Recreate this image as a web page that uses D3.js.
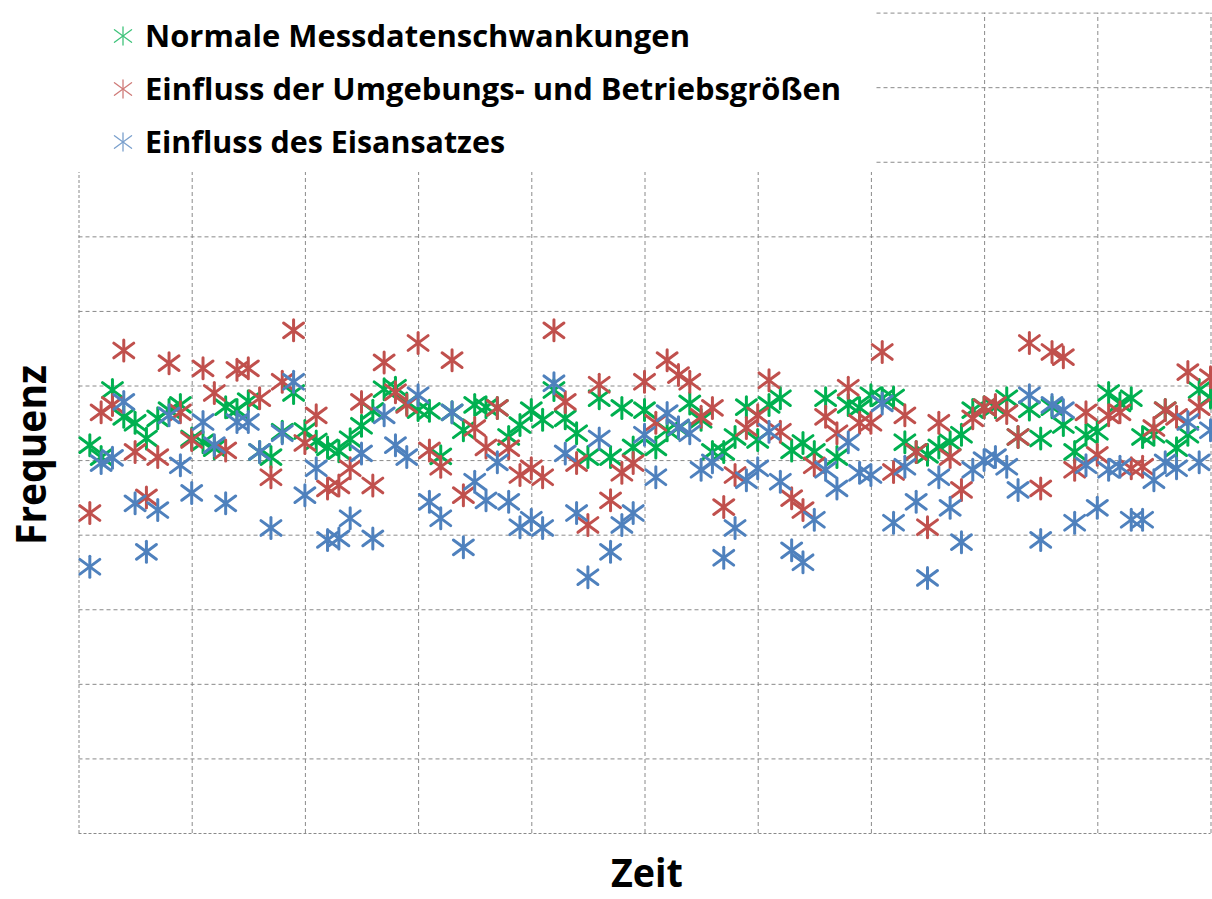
<!DOCTYPE html>
<html>
<head>
<meta charset="utf-8">
<script src="https://cdn.jsdelivr.net/npm/d3@7"></script>
<style>
  body { margin: 0; background: #fff; }
  svg { display: block; }
</style>
</head>
<body>
<svg id="chart" width="1212" height="899"></svg>
<script>
// series values (frequency in grid units), one per time step 1..100
var normale = [5.20,5.04,5.94,5.58,5.50,5.29,5.56,5.67,5.74,5.29,
  5.24,5.16,5.71,5.67,5.79,5.11,5.04,5.38,5.90,5.39,
  5.25,5.17,5.12,5.28,5.46,5.66,5.95,5.97,5.76,5.67,
  5.66,5.05,5.64,5.40,5.74,5.71,5.70,5.31,5.47,5.67,
  5.54,5.94,5.56,5.36,5.04,5.83,5.04,5.70,5.17,5.67,
  5.17,5.40,5.43,5.76,5.54,5.11,5.11,5.31,5.71,5.27,
  5.74,5.83,5.13,5.23,5.11,5.83,5.04,5.74,5.70,5.87,
  5.83,5.84,5.24,5.11,5.07,5.17,5.24,5.34,5.67,5.71,
  5.71,5.83,5.31,5.68,5.29,5.71,5.47,5.11,5.34,5.38,
  5.90,5.76,5.83,5.31,5.34,5.67,5.16,5.34,5.94,5.84]

var umgebung = [4.29,5.64,5.74,6.47,5.11,4.50,5.04,6.30,5.64,5.27,
  6.23,5.90,5.13,6.21,6.23,5.83,4.77,6.05,6.74,5.23,
  5.60,4.62,4.66,4.89,5.78,4.66,6.31,5.91,5.74,6.57,
  5.13,4.91,6.34,4.53,5.43,5.17,5.70,5.16,4.80,4.89,
  4.77,6.74,5.78,4.96,4.13,6.01,4.46,4.83,4.96,6.05,
  5.50,6.34,6.14,6.05,5.58,5.70,4.37,4.80,5.43,5.60,
  6.07,5.38,4.49,4.33,4.93,5.58,5.36,5.97,5.50,5.50,
  6.45,4.84,5.60,5.11,4.10,5.50,5.04,4.60,5.56,5.71,
  5.74,5.63,5.31,6.57,4.62,6.45,6.38,4.87,5.64,5.07,
  5.60,5.64,4.89,4.91,5.43,5.67,5.58,6.18,5.71,6.11]

var eisansatz = [3.57,4.96,5.03,5.78,4.42,3.77,4.33,5.60,4.93,4.56,
  5.51,5.20,4.42,5.51,5.51,5.11,4.09,5.36,6.05,4.53,
  4.89,3.93,3.95,4.22,5.09,3.95,5.60,5.20,5.04,5.87,
  4.44,4.22,5.64,3.83,4.71,4.46,4.97,4.44,4.10,4.20,
  4.09,6.03,5.09,4.29,3.43,5.29,3.77,4.13,4.29,5.34,
  4.77,5.63,5.44,5.36,4.87,4.97,3.69,4.09,4.73,4.89,
  5.38,4.71,3.79,3.63,4.20,4.87,4.62,5.24,4.83,4.80,
  5.76,4.16,4.91,4.44,3.42,4.77,4.36,3.90,4.87,5.00,
  5.04,4.91,4.60,5.87,3.93,5.74,5.67,4.16,4.93,4.36,
  4.87,4.91,4.20,4.20,4.73,4.97,4.89,5.51,4.97,5.40]

var seriesNames = ["Normale Messdatenschwankungen",
  "Einfluss der Umgebungs- und Betriebsgrößen",
  "Einfluss des Eisansatzes"]
var seriesColors = ["#00B050", "#C0504D", "#4F81BD"]
var xTicks = d3.range(0, 101, 10)
var yTicks = d3.range(0, 12, 1)

var svg = d3.select("#chart")
var plotL = 78.5, plotR = 1210.5, plotT = 12.6, plotB = 833

var x = d3.scaleLinear().domain([0, 100]).range([plotL, plotR])
var y = d3.scaleLinear().domain([0, 11]).range([plotB, plotT])

// grid (axes without labels)
var grid = svg.append("g")
grid.append("g")
  .attr("transform", "translate(0," + plotB + ")")
  .call(d3.axisBottom(x).tickValues(xTicks).tickSize(-(plotB - plotT)).tickFormat(""))
grid.append("g")
  .attr("transform", "translate(" + plotL + ",0)")
  .call(d3.axisLeft(y).tickValues(yTicks).tickSize(-(plotR - plotL)).tickFormat(""))
grid.selectAll(".domain").remove()
grid.selectAll(".tick line")
  .attr("stroke", "#8a8a8a")
  .attr("stroke-width", 1)
  .attr("stroke-dasharray", "4,3")
grid.selectAll(".tick line").filter(function(d) { return d === 0 })
  .attr("stroke-dasharray", "3,2")

// asterisk marker
function star(g, col, s, sw) {
  g.append("line").attr("x1", 0).attr("y1", -s).attr("x2", 0).attr("y2", s)
  g.append("line").attr("x1", -s * 0.95).attr("y1", -s * 0.7).attr("x2", s * 0.95).attr("y2", s * 0.7)
  g.append("line").attr("x1", -s * 0.95).attr("y1", s * 0.7).attr("x2", s * 0.95).attr("y2", -s * 0.7)
  g.attr("stroke", col).attr("stroke-width", sw).attr("stroke-linecap", "round")
}

var allSeries = [normale, umgebung, eisansatz]
var plot = svg.append("g")
allSeries.forEach(function(vals, k) {
  plot.append("g").selectAll("g")
    .data(vals)
    .enter().append("g")
    .attr("transform", function(d, i) { return "translate(" + x(i + 1) + "," + y(d) + ")" })
    .each(function() { star(d3.select(this), seriesColors[k], 10.5, 3) })
})

// legend box covers the grid
var legend = svg.append("g")
legend.append("rect").attr("x", 0).attr("y", 0).attr("width", 875).attr("height", 172).attr("fill", "#fff")
var legendWidths = [545, 696, 360]
seriesNames.forEach(function(name, k) {
  var cy = 36 + k * 53
  var m = legend.append("g").attr("transform", "translate(123," + cy + ")").attr("opacity", 0.75)
  star(m, seriesColors[k], 9, 1.3)
  legend.append("text")
    .attr("x", 145).attr("y", cy + 11)
    .attr("font-family", "Open Sans, sans-serif")
    .attr("font-weight", "bold")
    .attr("font-size", 30)
    .attr("textLength", legendWidths[k])
    .attr("lengthAdjust", "spacingAndGlyphs")
    .text(name)
})

// axis titles
svg.append("text")
  .attr("transform", "translate(46,455) rotate(-90)")
  .attr("text-anchor", "middle")
  .attr("font-family", "Open Sans, sans-serif")
  .attr("font-weight", "bold")
  .attr("font-size", 42)
  .attr("textLength", 180)
  .attr("lengthAdjust", "spacingAndGlyphs")
  .text("Frequenz")
svg.append("text")
  .attr("x", 647).attr("y", 887)
  .attr("text-anchor", "middle")
  .attr("font-family", "Open Sans, sans-serif")
  .attr("font-weight", "bold")
  .attr("font-size", 40)
  .attr("textLength", 72)
  .attr("lengthAdjust", "spacingAndGlyphs")
  .text("Zeit")
</script>
</body>
</html>
